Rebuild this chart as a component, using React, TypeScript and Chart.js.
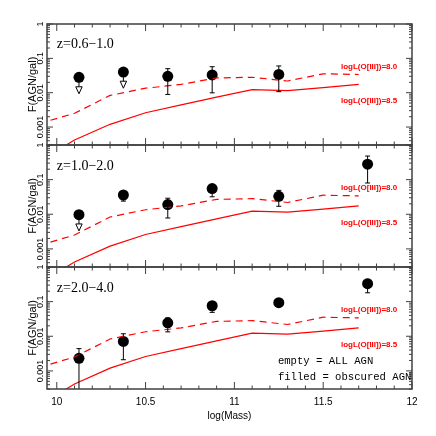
import React, { useEffect, useRef } from 'react';
import { Chart, registerables } from 'chart.js';

Chart.register(...registerables);

// ---------- data ----------
const PANEL_LABELS = ['z=0.6\u22121.0', 'z=1.0\u22122.0', 'z=2.0\u22124.0'];
const MASS_BINS = [10.125, 10.375, 10.625, 10.875, 11.25, 11.75];

const MODEL_MASS = [9.9, 10.1, 10.3, 10.5, 10.7, 10.9, 11.1, 11.3, 11.5, 11.7];
const MODEL_L80 = [0.00126, 0.00251, 0.00832, 0.0135, 0.0174, 0.0269, 0.0282, 0.0219, 0.0355, 0.0339];
const MODEL_L85 = [0.0001, 0.00042, 0.0012, 0.0026, 0.0044, 0.0074, 0.0123, 0.0115, 0.0141, 0.0174];
const MODEL_LABELS = ['logL(O[III])=8.0', 'logL(O[III])=8.5'];

const FRAC_Z1 = [0.028, 0.040, 0.030, 0.033, 0.034, null];
const UPPER_Z1 = [null, null, 0.050, 0.057, 0.060, null];
const LOWER_Z1 = [null, null, 0.0089, 0.0099, 0.0107, null];
const LIMIT_Z1 = [0.0093, 0.0135, null, null, null, null];

const FRAC_Z2 = [0.0097, 0.036, 0.019, 0.055, 0.033, 0.28];
const UPPER_Z2 = [null, 0.041, 0.029, 0.062, 0.049, 0.48];
const LOWER_Z2 = [null, 0.024, 0.0078, 0.032, 0.017, 0.08];
const LIMIT_Z2 = [0.0033, null, null, null, null, null];

const FRAC_Z3 = [0.0023, 0.0071, 0.0244, 0.076, 0.093, 0.33];
const UPPER_Z3 = [0.0044, 0.0118, 0.034, 0.087, 0.106, 0.44];
const LOWER_Z3 = [0.0002, 0.0021, 0.0134, 0.049, 0.082, 0.18];
const LIMIT_Z3 = [null, null, null, null, null, null];

const Y_TICKS = [0.001, 0.01, 0.1, 1];
const X_TICKS = [10, 10.5, 11, 11.5, 12];
const LEGEND_LINES = ['empty = ALL AGN', 'filled = obscured AGN'];

const PANELS = [
  { frac: FRAC_Z1, upper: UPPER_Z1, lower: LOWER_Z1, limit: LIMIT_Z1 },
  { frac: FRAC_Z2, upper: UPPER_Z2, lower: LOWER_Z2, limit: LIMIT_Z2 },
  { frac: FRAC_Z3, upper: UPPER_Z3, lower: LOWER_Z3, limit: LIMIT_Z3 },
];

// ---------- layout ----------
const W = 436;
const H = 436;
const AREA_TOP = [24, 145, 267];
const AREA_BOTTOM = [145, 267, 389];
const RED = '#ff0000';
const FRAME = '#404040';
const SANS = '"Liberation Sans", Arial, sans-serif';

function makePlugin(idx: number) {
  const panel = PANELS[idx];
  return {
    id: 'panelDecor' + idx,
    afterDatasetsDraw(chart: any) {
      const { ctx, chartArea } = chart;
      const xs = chart.scales.x;
      const ys = chart.scales.y;
      const { left, right, top, bottom } = chartArea;

      // error bars and upper-limit arrows
      ctx.save();
      ctx.beginPath();
      ctx.rect(left, top, right - left, bottom - top);
      ctx.clip();
      ctx.strokeStyle = '#000';
      ctx.lineWidth = 1;
      MASS_BINS.forEach((m, i) => {
        const v = panel.frac[i];
        if (v == null) return;
        const px = xs.getPixelForValue(m);
        const py = ys.getPixelForValue(v);
        const hi = panel.upper[i];
        const lo = panel.lower[i];
        if (hi != null) {
          const ph = ys.getPixelForValue(hi);
          ctx.beginPath();
          ctx.moveTo(px, py);
          ctx.lineTo(px, ph);
          ctx.moveTo(px - 2.5, ph);
          ctx.lineTo(px + 2.5, ph);
          ctx.stroke();
        }
        if (lo != null) {
          const pl = ys.getPixelForValue(lo);
          ctx.beginPath();
          ctx.moveTo(px, py);
          ctx.lineTo(px, pl);
          ctx.moveTo(px - 2.5, pl);
          ctx.lineTo(px + 2.5, pl);
          ctx.stroke();
        }
        const lim = panel.limit[i];
        if (lim != null) {
          const pt = ys.getPixelForValue(lim);
          ctx.beginPath();
          ctx.moveTo(px, py);
          ctx.lineTo(px, pt - 7);
          ctx.stroke();
          ctx.beginPath();
          ctx.moveTo(px, pt);
          ctx.lineTo(px - 3.2, pt - 7);
          ctx.lineTo(px + 3.2, pt - 7);
          ctx.closePath();
          ctx.fillStyle = '#fff';
          ctx.fill();
          ctx.stroke();
        }
      });
      ctx.restore();

      // frame
      ctx.save();
      ctx.strokeStyle = FRAME;
      ctx.lineWidth = 1.5;
      ctx.strokeRect(left, top, right - left, bottom - top);

      // inward ticks
      ctx.lineWidth = 1;
      ctx.beginPath();
      for (let k = 100; k <= 120; k++) {
        const v = k / 10;
        const px = xs.getPixelForValue(v);
        const len = k % 5 === 0 ? 7 : 3.5;
        ctx.moveTo(px, bottom);
        ctx.lineTo(px, bottom - len);
        ctx.moveTo(px, top);
        ctx.lineTo(px, top + len);
      }
      for (let d = -4; d <= 0; d++) {
        for (let m = 1; m <= 9; m++) {
          const v = m * Math.pow(10, d);
          if (v < ys.min * 0.999 || v > ys.max * 1.001) continue;
          const py = ys.getPixelForValue(v);
          const len = m === 1 ? 6 : 3;
          ctx.moveTo(left, py);
          ctx.lineTo(left + len, py);
          ctx.moveTo(right, py);
          ctx.lineTo(right - len, py);
        }
      }
      ctx.stroke();
      ctx.restore();

      // texts
      ctx.save();
      ctx.fillStyle = '#000';
      ctx.textAlign = 'left';
      ctx.textBaseline = 'middle';
      ctx.font = '14px "Liberation Serif", "Times New Roman", serif';
      ctx.fillText(PANEL_LABELS[idx], xs.getPixelForValue(10.0), ys.getPixelForValue(0.25));

      ctx.fillStyle = RED;
      ctx.font = 'bold 8px ' + SANS;
      ctx.fillText(MODEL_LABELS[0], xs.getPixelForValue(11.6), ys.getPixelForValue(0.058));
      ctx.fillText(MODEL_LABELS[1], xs.getPixelForValue(11.6), ys.getPixelForValue(0.0058));

      if (idx === 2) {
        ctx.fillStyle = '#000';
        ctx.font = '10.6px "Liberation Mono", "Courier New", monospace';
        ctx.fillText(LEGEND_LINES[0], xs.getPixelForValue(11.245), ys.getPixelForValue(0.00195));
        ctx.fillText(LEGEND_LINES[1], xs.getPixelForValue(11.245), ys.getPixelForValue(0.00065));
      }
      ctx.restore();
    },
  };
}

function makeConfig(idx: number): any {
  const isBottom = idx === 2;
  const panel = PANELS[idx];
  const points = MASS_BINS.map((x, i) => ({ x, y: panel.frac[i] })).filter((p) => p.y != null);
  return {
    type: 'scatter',
    data: {
      datasets: [
        {
          type: 'line',
          label: MODEL_LABELS[0],
          data: MODEL_MASS.map((x, k) => ({ x, y: MODEL_L80[k] })),
          borderColor: RED,
          borderWidth: 1.2,
          borderDash: [7, 5],
          pointRadius: 0,
          fill: false,
          tension: 0,
        },
        {
          type: 'line',
          label: MODEL_LABELS[1],
          data: MODEL_MASS.map((x, k) => ({ x, y: MODEL_L85[k] })),
          borderColor: RED,
          borderWidth: 1.2,
          pointRadius: 0,
          fill: false,
          tension: 0,
        },
        {
          type: 'scatter',
          label: 'obscured AGN',
          data: points,
          pointRadius: 5.5,
          pointHoverRadius: 5.5,
          backgroundColor: '#000',
          borderWidth: 0,
        },
      ],
    },
    options: {
      responsive: false,
      animation: false,
      devicePixelRatio: 1,
      events: [],
      layout: {
        padding: {
          left: 0,
          right: W - 412,
          top: AREA_TOP[idx],
          bottom: isBottom ? 0 : H - AREA_BOTTOM[idx],
        },
      },
      plugins: { legend: { display: false }, tooltip: { enabled: false } },
      scales: {
        x: {
          type: 'linear',
          min: 9.945,
          max: 12,
          display: isBottom,
          grid: { display: false },
          border: { display: false },
          afterBuildTicks: (s: any) => {
            s.ticks = X_TICKS.map((v) => ({ value: v }));
          },
          afterFit: (s: any) => {
            if (isBottom) s.height = H - AREA_BOTTOM[idx];
            s.paddingLeft = 0;
            s.paddingRight = 0;
          },
          ticks: {
            autoSkip: false,
            maxRotation: 0,
            padding: -1,
            color: '#000',
            font: { family: SANS, size: 10 },
            callback: (v: any) => String(v),
          },
          title: {
            display: true,
            text: 'log(Mass)',
            color: '#000',
            font: { family: SANS, size: 10 },
            padding: { top: 0, bottom: 14 },
          },
        },
        y: {
          type: 'logarithmic',
          min: Math.pow(10, -3.5),
          max: 1,
          grid: { display: false },
          border: { display: false },
          afterBuildTicks: (s: any) => {
            s.ticks = Y_TICKS.map((v) => ({ value: v }));
          },
          afterFit: (s: any) => {
            s.width = 47;
            s.paddingTop = 0;
            s.paddingBottom = 0;
          },
          ticks: {
            autoSkip: false,
            minRotation: 90,
            maxRotation: 90,
            crossAlign: 'center',
            padding: -13,
            color: '#000',
            font: { family: SANS, size: 9 },
            callback: (v: any) => String(v),
          },
          title: {
            display: true,
            text: 'F(AGN/gal)',
            color: '#000',
            font: { family: SANS, size: 11 },
            padding: { top: 26, bottom: 0 },
          },
        },
      },
    },
    plugins: [makePlugin(idx)],
  };
}

export default function App() {
  const r0 = useRef<HTMLCanvasElement>(null);
  const r1 = useRef<HTMLCanvasElement>(null);
  const r2 = useRef<HTMLCanvasElement>(null);

  useEffect(() => {
    const refs = [r0, r1, r2];
    const charts = refs.map((r, i) => new Chart(r.current as HTMLCanvasElement, makeConfig(i)));
    return () => charts.forEach((c) => c.destroy());
  }, []);

  const cs: React.CSSProperties = { position: 'absolute', left: 0, top: 0, width: W, height: H, display: 'block' };
  return (
    <div style={{ position: 'fixed', left: 0, top: 0, width: W, height: H, background: '#fff' }}>
      <canvas ref={r0} width={W} height={H} style={cs} />
      <canvas ref={r1} width={W} height={H} style={cs} />
      <canvas ref={r2} width={W} height={H} style={cs} />
    </div>
  );
}
